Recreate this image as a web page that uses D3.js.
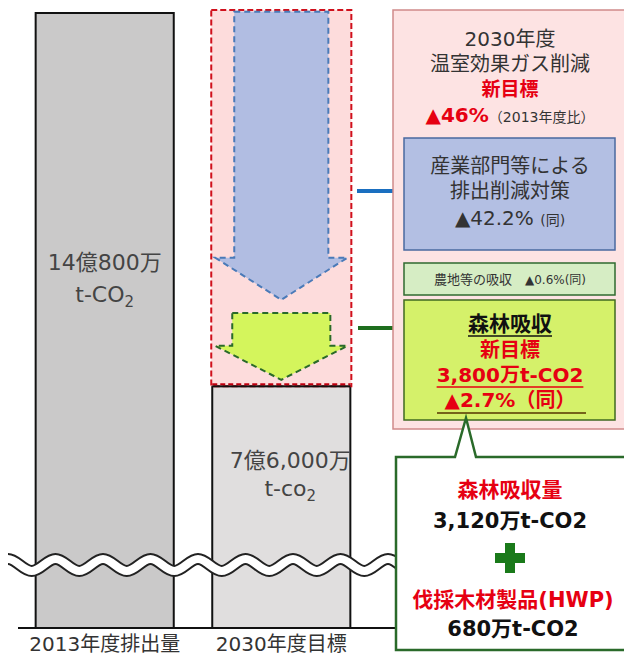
<!DOCTYPE html>
<html><head><meta charset="utf-8">
<script src="https://cdn.jsdelivr.net/npm/d3@7"></script>
<style>
html,body{margin:0;padding:0;background:#fff;}
svg{display:block;font-family:"DejaVu Sans","Noto Sans CJK JP",sans-serif;}
</style></head>
<body>
<svg id="c" width="624" height="659"></svg>
<script>
// ---- data (億t-CO2) ----
const categories = ["2013年度排出量", "2030年度目標"];
const emissions = [14.08, 7.60];
const barLabelMain = ["14億800万", "7億6,000万"];
const barLabelUnit = ["t-CO", "t-co"];
const axisBreakBase = 3.40; // value at baseline (broken axis)
// schematic reduction arrows inside the 2030 bar: top, neck, tip (億t)
const arrowNames = ["排出削減対策", "森林吸収"];
const arrowTop = [14.10, 8.87];
const arrowNeck = [9.83, 8.30];
const arrowTip = [9.10, 7.71];

const svg = d3.select("#c");
const x = d3.scaleBand().domain(categories).range([18, 368]).paddingInner(0.218).paddingOuter(0.1);
const y = d3.scaleLinear().domain([axisBreakBase, emissions[0]]).range([628, 13]);
const RED = "#e60012";

// bars
svg.selectAll("rect.bar").data(categories).join("rect")
  .attr("class", "bar")
  .attr("x", d => x(d)).attr("width", x.bandwidth())
  .attr("y", (d, i) => y(emissions[i])).attr("height", (d, i) => y(axisBreakBase) - y(emissions[i]))
  .attr("fill", (d, i) => i === 0 ? "#cac9c9" : "#e0dede")
  .attr("stroke", "#111").attr("stroke-width", 2);

// red dashed reduction box
const b2 = categories[1];
svg.append("rect")
  .attr("x", x(b2) - 1).attr("width", x.bandwidth() + 2)
  .attr("y", y(emissions[0]) - 3).attr("height", y(emissions[1]) - y(emissions[0]) + 3)
  .attr("fill", "#fddcdc").attr("stroke", "#d0101c").attr("stroke-width", 2).attr("stroke-dasharray", "6,3");
svg.append("line").attr("x1", x(b2)).attr("x2", x(b2) + x.bandwidth())
  .attr("y1", y(emissions[1])).attr("y2", y(emissions[1])).attr("stroke", "#111").attr("stroke-width", 2);
svg.append("line").attr("x1", x(b2)).attr("x2", x(b2) + x.bandwidth())
  .attr("y1", y(emissions[1]) - 2).attr("y2", y(emissions[1]) - 2).attr("stroke", "#c00010").attr("stroke-width", 2).attr("stroke-dasharray", "5,3");

// arrows
const arrowFill = ["#b1bde2", "#d4f55c"];
const arrowStroke = ["#4a7ab8", "#2a6a2a"];
const shaftInset = [22, 20];
arrowNames.forEach((n, i) => {
  const L = x(b2), R = x(b2) + x.bandwidth(), C = (L + R) / 2;
  const p = d3.path();
  p.moveTo(L + shaftInset[i], y(arrowTop[i]));
  p.lineTo(R - shaftInset[i], y(arrowTop[i]));
  p.lineTo(R - shaftInset[i], y(arrowNeck[i]));
  p.lineTo(R - 3, y(arrowNeck[i]));
  p.lineTo(C, y(arrowTip[i]));
  p.lineTo(L + 3, y(arrowNeck[i]));
  p.lineTo(L + shaftInset[i], y(arrowNeck[i]));
  p.closePath();
  svg.append("path").attr("d", p.toString()).attr("fill", arrowFill[i])
    .attr("stroke", arrowStroke[i]).attr("stroke-width", 2).attr("stroke-dasharray", "6,4");
});

// bar labels
const labelY = [[270, 302], [468, 496]];
categories.forEach((c, i) => {
  const cx = x(c) + x.bandwidth() / 2 + (i === 1 ? 9 : 0);
  svg.append("text").attr("x", cx).attr("y", labelY[i][0]).attr("text-anchor", "middle")
    .attr("font-size", 22).attr("fill", "#444").text(barLabelMain[i]);
  const t = svg.append("text").attr("x", cx).attr("y", labelY[i][1]).attr("text-anchor", "middle")
    .attr("font-size", 22).attr("fill", "#444");
  t.append("tspan").text(barLabelUnit[i]);
  t.append("tspan").attr("font-size", 15).attr("dy", 5).text("2");
});

// wave break
const wave = d3.path();
const wy = 565, amp = 6, wl = 47.5, w0 = 8;
wave.moveTo(w0, wy - amp);
for (let xx = w0; xx < 390; xx += wl) {
  wave.bezierCurveTo(xx + wl * 0.18, wy - amp, xx + wl * 0.32, wy + amp, xx + wl / 2, wy + amp);
  wave.bezierCurveTo(xx + wl * 0.68, wy + amp, xx + wl * 0.82, wy - amp, xx + wl, wy - amp);
}
svg.append("path").attr("d", wave.toString()).attr("fill", "none").attr("stroke", "#222").attr("stroke-width", 12);
svg.append("path").attr("d", wave.toString()).attr("fill", "none").attr("stroke", "#fff").attr("stroke-width", 8);

// baseline
svg.append("line").attr("x1", 18).attr("x2", 397).attr("y1", y(axisBreakBase)).attr("y2", y(axisBreakBase))
  .attr("stroke", "#111").attr("stroke-width", 2);

// category labels
categories.forEach(c => {
  svg.append("text").attr("x", x(c) + x.bandwidth() / 2).attr("y", 651).attr("text-anchor", "middle")
    .attr("font-size", 20).attr("fill", "#333").text(c);
});

// connectors
svg.append("line").attr("x1", 357).attr("x2", 405).attr("y1", 191).attr("y2", 191).attr("stroke", "#1a6fc0").attr("stroke-width", 4);
svg.append("line").attr("x1", 358).attr("x2", 405).attr("y1", 328).attr("y2", 328).attr("stroke", "#1e6e1e").attr("stroke-width", 4);

// right panel: pink box
svg.append("rect").attr("x", 393).attr("y", 10).attr("width", 240).attr("height", 419)
  .attr("fill", "#fde3e3").attr("stroke", "#d08a8a").attr("stroke-width", 1.5);
const PX = 510;
function txt(xp, yp, s, size, color, weight) {
  return svg.append("text").attr("x", xp).attr("y", yp).attr("text-anchor", "middle")
    .attr("font-size", size).attr("fill", color).attr("font-weight", weight || 400).text(s);
}
txt(PX, 46, "2030年度", 20, "#333");
txt(PX, 71, "温室効果ガス削減", 20, "#333");
txt(PX, 96, "新目標", 19, RED, 700);
{
  const t = svg.append("text").attr("x", PX).attr("y", 122).attr("text-anchor", "middle");
  t.append("tspan").attr("font-size", 20).attr("font-weight", 700).attr("fill", RED).text("▲46%");
  t.append("tspan").attr("font-size", 14).attr("fill", "#333").text("（2013年度比）");
}
// blue box
svg.append("rect").attr("x", 404).attr("y", 138).attr("width", 211).attr("height", 112)
  .attr("fill", "#b3bfe3").attr("stroke", "#4a6aa0").attr("stroke-width", 1.5);
txt(PX, 173, "産業部門等による", 20, "#333");
txt(PX, 198, "排出削減対策", 20, "#333");
{
  const t = svg.append("text").attr("x", PX).attr("y", 225).attr("text-anchor", "middle").attr("fill", "#333");
  t.append("tspan").attr("font-size", 20).text("▲42.2% ");
  t.append("tspan").attr("font-size", 14).text("(同)");
}
// small green box
svg.append("rect").attr("x", 404).attr("y", 263).attr("width", 211).attr("height", 32)
  .attr("fill", "#d6edc4").attr("stroke", "#2f6a2f").attr("stroke-width", 1.5);
{
  const t = svg.append("text").attr("x", PX).attr("y", 284).attr("text-anchor", "middle").attr("fill", "#333").attr("font-size", 13);
  t.append("tspan").text("農地等の吸収　");
  t.append("tspan").attr("font-size", 12).text("▲0.6%(同)");
}
// forest box
svg.append("rect").attr("x", 404).attr("y", 300).attr("width", 211).attr("height", 120)
  .attr("fill", "#d5f16a").attr("stroke", "#3f6a20").attr("stroke-width", 1.5);
function underlined(xp, yp, s, size, color, ulColor, ulY) {
  const t = txt(xp, yp, s, size, color, 700);
  const w = t.node().getComputedTextLength();
  svg.append("line").attr("x1", xp - w / 2).attr("x2", xp + w / 2).attr("y1", ulY).attr("y2", ulY)
    .attr("stroke", ulColor).attr("stroke-width", 1.5);
  return t;
}
underlined(PX, 331, "森林吸収", 21, "#111", "#111", 336);
txt(PX, 357, "新目標", 20, RED, 700);
underlined(PX, 382, "3,800万t-CO2", 20, RED, RED, 387);
txt(PX, 407, "▲2.7%（同）", 20, RED, 700);
svg.append("line").attr("x1", 437).attr("x2", 586).attr("y1", 413).attr("y2", 413).attr("stroke", "#553300").attr("stroke-width", 1.5);

// callout box with pointer
{
  const p = d3.path();
  p.moveTo(396, 457);
  p.lineTo(455, 457);
  p.lineTo(466, 418);
  p.lineTo(476, 457);
  p.lineTo(640, 457);
  p.lineTo(640, 650);
  p.lineTo(396, 650);
  p.closePath();
  svg.append("path").attr("d", p.toString()).attr("fill", "#fff").attr("stroke", "#2a6a2a").attr("stroke-width", 2.5);
}
txt(PX, 497, "森林吸収量", 21, RED, 700);
txt(PX, 528, "3,120万t-CO2", 21, "#111", 700);
// plus
svg.append("rect").attr("x", PX - 15).attr("y", 553).attr("width", 30).attr("height", 10).attr("fill", "#1a7a1a");
svg.append("rect").attr("x", PX - 5).attr("y", 543).attr("width", 10).attr("height", 30).attr("fill", "#1a7a1a");
txt(PX + 3, 607, "伐採木材製品(HWP)", 21, RED, 700);
txt(PX + 3, 636, "680万t-CO2", 21, "#111", 700);
</script>
</body></html>
